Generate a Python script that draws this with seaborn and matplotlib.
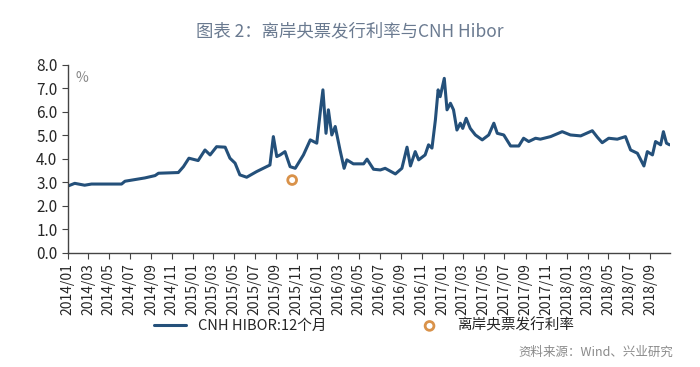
import pandas as pd
import matplotlib
matplotlib.use('Agg')
import matplotlib.pyplot as plt
import matplotlib.dates as mdates
import seaborn as sns

# CNH HIBOR 12M (rows of 5 match between lists)
hibor_dates = [
    '2014-01-02', '2014-01-21', '2014-02-19', '2014-03-11', '2014-06-07',
    '2014-06-17', '2014-08-14', '2014-09-13', '2014-09-23', '2014-11-20',
    '2014-12-05', '2014-12-21', '2015-01-17', '2015-02-06', '2015-02-21',
    '2015-03-12', '2015-04-06', '2015-04-20', '2015-05-05', '2015-05-19',
    '2015-06-08', '2015-07-07', '2015-08-15', '2015-08-25', '2015-09-04',
    '2015-09-14', '2015-09-28', '2015-10-13', '2015-10-28', '2015-11-21',
    '2015-12-11', '2015-12-30', '2016-01-11', '2016-01-17', '2016-01-26',
    '2016-02-02', '2016-02-12', '2016-02-22', '2016-03-07', '2016-03-19',
    '2016-03-27', '2016-04-15', '2016-05-15', '2016-05-25', '2016-06-13',
    '2016-07-03', '2016-07-17', '2016-08-16', '2016-09-04', '2016-09-19',
    '2016-09-29', '2016-10-13', '2016-10-23', '2016-11-11', '2016-11-21',
    '2016-12-01', '2016-12-11', '2016-12-19', '2016-12-25', '2017-01-06',
    '2017-01-14', '2017-01-24', '2017-02-02', '2017-02-12', '2017-02-22',
    '2017-03-01', '2017-03-11', '2017-03-23', '2017-04-07', '2017-04-27',
    '2017-05-16', '2017-05-31', '2017-06-10', '2017-06-29', '2017-07-19',
    '2017-08-12', '2017-08-26', '2017-09-10', '2017-09-30', '2017-10-14',
    '2017-11-13', '2017-12-17', '2018-01-10', '2018-02-09', '2018-03-15',
    '2018-03-30', '2018-04-13', '2018-05-02', '2018-05-27', '2018-06-20',
    '2018-07-05', '2018-07-25', '2018-08-13', '2018-08-23', '2018-09-07',
    '2018-09-16', '2018-10-01', '2018-10-09', '2018-10-18', '2018-10-27',
]
hibor_values = [
    2.85, 2.96, 2.88, 2.93, 2.93,
    3.05, 3.19, 3.29, 3.39, 3.42,
    3.67, 4.03, 3.93, 4.38, 4.17,
    4.52, 4.50, 4.03, 3.82, 3.32,
    3.22, 3.46, 3.74, 4.95, 4.10,
    4.17, 4.31, 3.67, 3.60, 4.17,
    4.81, 4.67, 6.23, 6.94, 5.09,
    6.09, 5.02, 5.38, 4.38, 3.60,
    3.96, 3.79, 3.79, 3.99, 3.56,
    3.53, 3.60, 3.36, 3.60, 4.50,
    3.70, 4.31, 3.96, 4.17, 4.60,
    4.46, 5.66, 6.94, 6.65, 7.43,
    6.09, 6.37, 6.09, 5.23, 5.52,
    5.30, 5.73, 5.30, 5.02, 4.81,
    5.02, 5.52, 5.09, 5.02, 4.55,
    4.55, 4.88, 4.74, 4.88, 4.84,
    4.95, 5.16, 5.02, 4.98, 5.20,
    4.92, 4.69, 4.88, 4.84, 4.95,
    4.38, 4.24, 3.70, 4.31, 4.17,
    4.74, 4.60, 5.16, 4.67, 4.60,
]

# offshore central bank bill issuance rate (single point, placed as drawn)
bill_dates = ['2015-10-19']
bill_values = [3.10]

line_name = 'CNH HIBOR:12个月'
bill_name = '离岸央票发行利率'

hibor = pd.DataFrame({'date': pd.to_datetime(hibor_dates), 'rate': hibor_values})
bill = pd.DataFrame({'date': pd.to_datetime(bill_dates), 'rate': bill_values})

sns.set_style('ticks')
plt.rcParams['font.family'] = ['Noto Sans CJK SC', 'DejaVu Sans']

fig = plt.figure(figsize=(7, 3.67), dpi=100)
ax = fig.add_axes([0.097, 0.311, 0.86, 0.512])

sns.lineplot(data=hibor, x='date', y='rate', ax=ax, color='#24507A',
             linewidth=2.2, label=line_name)
sns.scatterplot(data=bill, x='date', y='rate', ax=ax, marker='o', s=40,
                facecolor='none', edgecolor='#D9924A', linewidth=2.0,
                label=bill_name)

ax.set_xlim(pd.Timestamp('2014-01-01'), pd.Timestamp('2018-10-28'))
ax.set_ylim(0, 8)
ax.set_yticks(range(9))
ax.set_yticklabels([f'{v:.1f}' for v in range(9)])
ax.xaxis.set_major_locator(mdates.MonthLocator(bymonth=[1, 3, 5, 7, 9, 11]))
ax.xaxis.set_major_formatter(mdates.DateFormatter('%Y/%m'))
ax.tick_params(axis='x', labelrotation=90, labelsize=10, length=4, color='#444444')
ax.tick_params(axis='y', labelsize=11, length=4, color='#444444')
ax.set_xlabel('')
ax.set_ylabel('')
for side in ['top', 'right']:
    ax.spines[side].set_visible(False)
for side in ['left', 'bottom']:
    ax.spines[side].set_color('#444444')
    ax.spines[side].set_linewidth(1.0)

ax.text(0.012, 0.97, '%', transform=ax.transAxes, fontsize=10,
        color='#888888', va='top', ha='left')

handles, labels = ax.get_legend_handles_labels()
ax.get_legend().remove()
fig.legend(handles, labels, loc='center', bbox_to_anchor=(0.52, 0.113), ncol=2,
           frameon=False, fontsize=10.5, columnspacing=6, handlelength=2.2)

fig.text(0.5, 0.915, '图表 2：离岸央票发行利率与CNH Hibor', ha='center', va='center',
         fontsize=12.5, color='#6A7A90')
fig.text(0.962, 0.04, '资料来源：Wind、兴业研究', ha='right', va='center',
         fontsize=9, color='#8A8A8A')

fig.savefig('out.png', dpi=100)
